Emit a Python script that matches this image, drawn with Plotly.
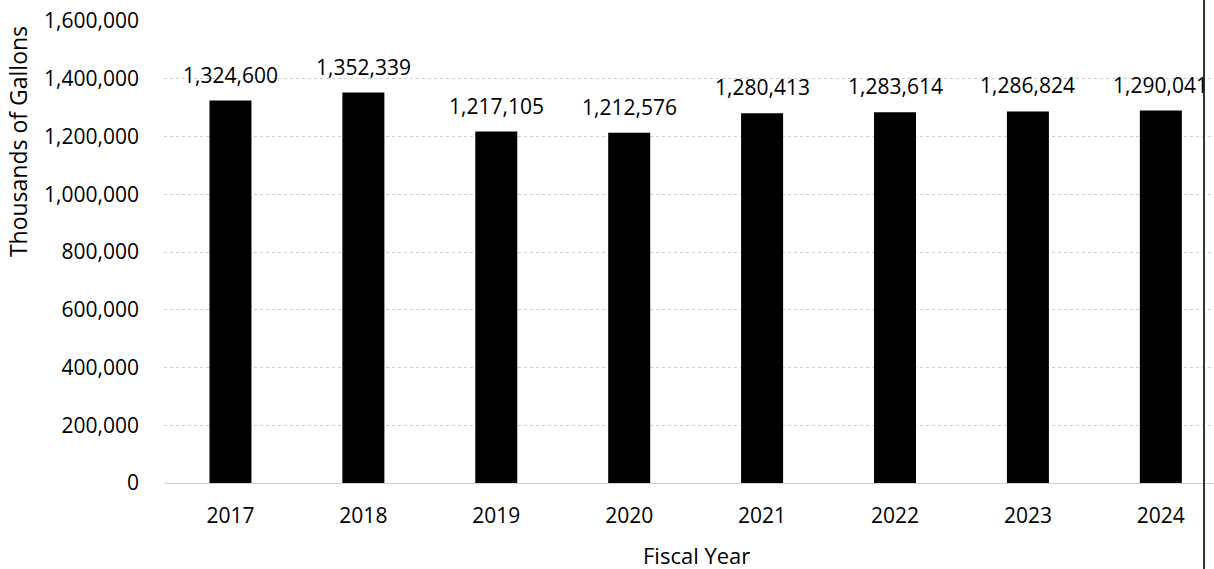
import plotly.graph_objects as go

years = ["2017", "2018", "2019", "2020", "2021", "2022", "2023", "2024"]
gallons = [1324600, 1352339, 1217105, 1212576, 1280413, 1283614, 1286824, 1290041]
y_ticks = [0, 200000, 400000, 600000, 800000, 1000000, 1200000, 1400000, 1600000]

FONT = "Open Sans"

fig = go.Figure()
fig.add_trace(go.Bar(
    x=years, y=gallons, width=0.316,
    marker=dict(color="black", line=dict(width=0)),
    hoverinfo="skip",
))

for i, v in enumerate(gallons):
    fig.add_annotation(x=i, y=v, xref="x", yref="y", text=f"{v:,}",
                       showarrow=False, yanchor="bottom", yshift=10,
                       font=dict(family=FONT, size=21, color="black"))

fig.add_annotation(xref="paper", yref="paper", x=0.5076, y=-0.156,
                   text="Fiscal Year", showarrow=False,
                   xanchor="center", yanchor="middle",
                   font=dict(family=FONT, size=22, color="black"))
fig.add_annotation(xref="paper", yref="paper", x=-0.139, y=0.738,
                   text="Thousands of Gallons", showarrow=False, textangle=-90,
                   xanchor="center", yanchor="middle",
                   font=dict(family=FONT, size=23, color="black"))

fig.add_shape(type="line", xref="paper", yref="paper",
              x0=0.9905, x1=0.9905, y0=-0.2, y1=1.06,
              line=dict(color="#333333", width=2))

fig.update_layout(
    width=1214, height=569,
    margin=dict(l=164, r=0, t=21, b=86),
    paper_bgcolor="white", plot_bgcolor="white",
    showlegend=False,
    font=dict(family=FONT, size=21, color="black"),
    xaxis=dict(
        type="category", range=[-0.5, 7.4],
        showgrid=False, showline=False, zeroline=False, ticks="",
        ticklabelstandoff=18,
        tickfont=dict(family=FONT, size=21, color="black"),
    ),
    yaxis=dict(
        range=[0, 1600000], tickvals=y_ticks,
        ticktext=[f"{t:,}" for t in y_ticks],
        showgrid=True, gridcolor="#d0d0d0", griddash="dot", gridwidth=1,
        zeroline=True, zerolinecolor="#d0d0d0", zerolinewidth=1,
        showline=False, ticks="",
        ticklabelstandoff=24,
        tickfont=dict(family=FONT, size=21, color="black"),
    ),
)

fig.write_html("out.html")
